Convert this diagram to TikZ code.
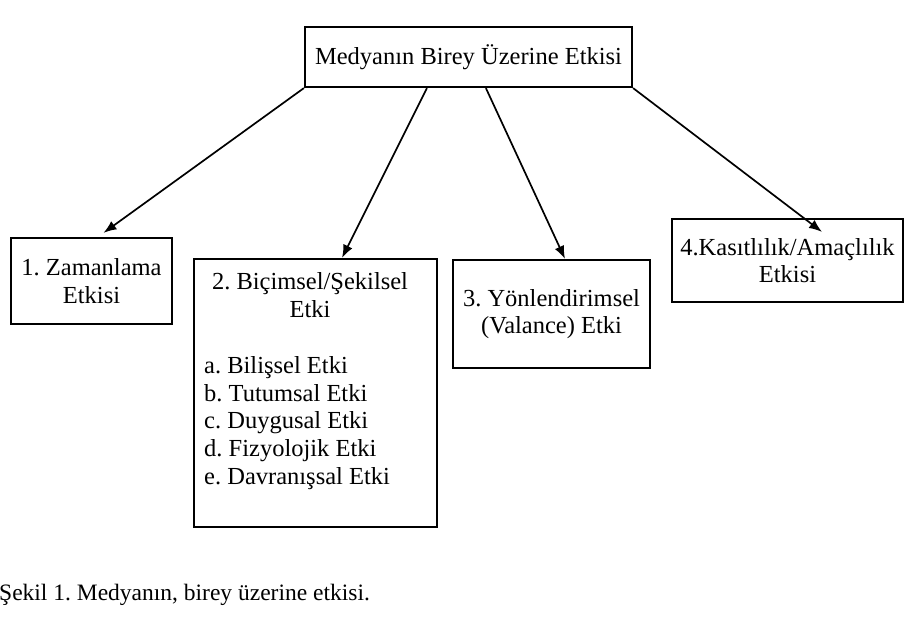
\documentclass[tikz,border=0pt]{standalone}
\usepackage{fontspec}
\setmainfont{Liberation Serif}
\usetikzlibrary{arrows.meta}
\frenchspacing

\begin{document}
\begin{tikzpicture}[x=1pt,y=-1pt]

\tikzset{box/.style = {shape=rectangle,draw,line width=2.2pt,inner sep=0pt,
  font=\fontsize{24.5}{27.5}\selectfont,align=center}}
\tikzset{txt/.style = {inner sep=0pt,font=\fontsize{24.5}{27.8}\selectfont}}
\tikzset{edge/.style = {-{Latex[length=13pt,width=10pt]},line width=1.7pt}}

\useasboundingbox (0,0) rectangle (904,628);

\node[box,minimum width=327,minimum height=60] (top) at (468.5,57)
  {\raisebox{-4pt}{Medyanın Birey Üzerine Etkisi}};

\node[box,minimum width=161,minimum height=86] (b1) at (91.5,281) {1. Zamanlama\\Etkisi};
\node[box,minimum width=243,minimum height=268] (b2) at (315.5,393) {};
\node[box,minimum width=197,minimum height=108] (b3) at (551.5,314) {3. Yönlendirimsel\\(Valance) Etki};
\node[box,minimum width=231,minimum height=83] (b4) at (787.5,260.5) {4.Kasıtlılık/Amaçlılık\\Etkisi};

\node[txt,align=center] (b2head) at (310,295) {2. Biçimsel/Şekilsel\\Etki};
\node[txt,align=left,anchor=north west] (b2list) at (204,356)
  {a. Bilişsel Etki\\b. Tutumsal Etki\\c. Duygusal Etki\\d. Fizyolojik Etki\\e. Davranışsal Etki};

\draw[edge] (top.south west) -- ([xshift=12pt,yshift=4pt]b1.north);
\draw[edge] ([xshift=123pt]top.south west) -- ([xshift=26.5pt]b2.north);
\draw[edge] ([xshift=182pt]top.south west) -- ([xshift=13.5pt]b3.north);
\draw[edge] (top.south east) -- ([xshift=34.5pt,yshift=-14pt]b4.north);

\node[txt,anchor=base west,font=\fontsize{23.5}{27}\selectfont] (caption) at (-1,600)
  {Şekil 1. Medyanın, birey üzerine etkisi.};

\end{tikzpicture}
\end{document}
